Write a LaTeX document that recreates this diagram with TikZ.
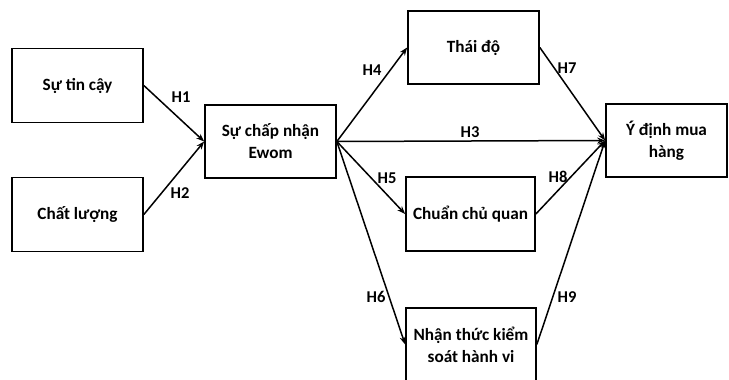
\documentclass[tikz,border=0pt]{standalone}
\usepackage{fontspec}
\setmainfont{Carlito}
\usetikzlibrary{arrows.meta}
\begin{document}
\begin{tikzpicture}[x=1pt,y=-1pt,
  box/.style={draw=black,line width=1.7pt,minimum width=131pt,minimum height=74pt,
    align=center,inner sep=2pt,font=\bfseries\fontsize{17.2}{22}\selectfont},
  hyp/.style={font=\bfseries\fontsize{16.5}{20}\selectfont,inner sep=0pt},
  link/.style={line width=1.5pt,-{Stealth[length=8pt,width=6pt]}}]
\useasboundingbox (0,0) rectangle (729,380);
% constructs
\node[box] (tin)   at (77.5,85.5)  {Sự tin cậy};
\node[box] (cl)    at (77.5,214.5) {Chất lượng};
\node[box,minimum height=73pt] (ewom) at (270.5,141.5) {Sự chấp nhận\\Ewom};
\node[box,minimum height=73pt] (td)   at (473.5,47.5)  {Thái độ};
\node[box,minimum width=129pt] (ccq)  at (470.5,214)   {Chuẩn chủ quan};
\node[box,minimum width=130pt,minimum height=73pt] (nt) at (471,344.5) {Nhận thức kiểm\\soát hành vi};
\node[box,minimum width=121pt,minimum height=73pt] (yd) at (666.5,140.5) {Ý định mua\\hàng};
% paths
\draw[link] (tin.east) -- (ewom.west);
\draw[link] (cl.east)  -- (ewom.west);
\draw[link] (ewom.east) -- (td.west);
\draw[link] (ewom.east) -- (yd.west);
\draw[link] (ewom.east) -- (ccq.west);
\draw[link] (ewom.east) -- (nt.west);
\draw[link] (td.east)  -- (yd.west);
\draw[link] (ccq.east) -- (yd.west);
\draw[link] (nt.east)  -- (yd.west);
% hypothesis labels
\node[hyp] (h1) at (181,97)  {H1};
\node[hyp] (h2) at (180,193) {H2};
\node[hyp] (h3) at (470,132) {H3};
\node[hyp] (h4) at (372,70)  {H4};
\node[hyp] (h5) at (387,178) {H5};
\node[hyp] (h6) at (376,297) {H6};
\node[hyp] (h7) at (567,68)  {H7};
\node[hyp] (h8) at (558,177) {H8};
\node[hyp] (h9) at (567,297) {H9};
\end{tikzpicture}
\end{document}
